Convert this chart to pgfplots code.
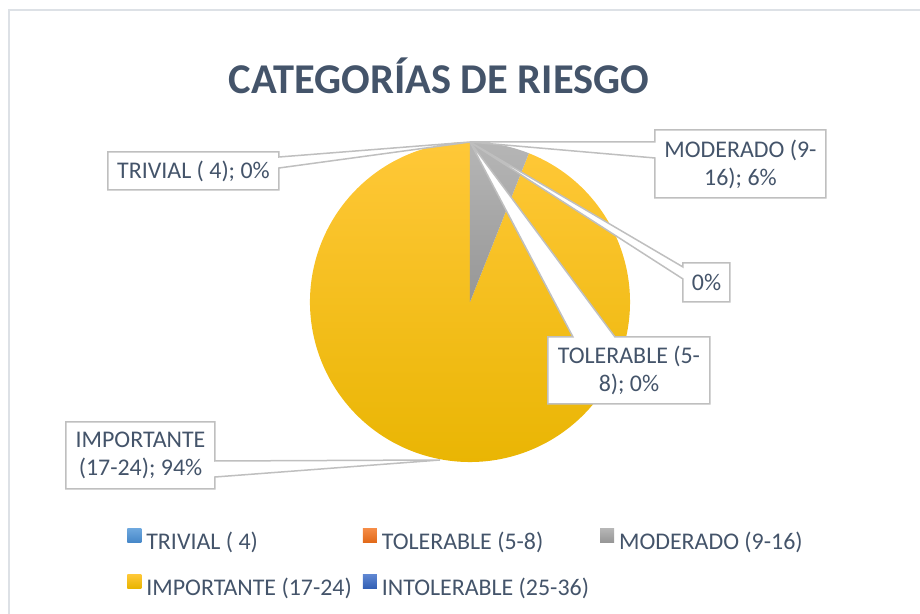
\documentclass[border=0pt]{standalone}
\usepackage{pgfplots}
\usepackage{pgfplotstable}
\pgfplotsset{compat=1.18}
\usepackage{fontspec}
\setmainfont{Carlito}
\definecolor{txt}{HTML}{44546A}
\definecolor{callout}{HTML}{BFBFBF}
\definecolor{framec}{HTML}{DDE1E6}
\definecolor{ylTop}{RGB}{255,200,56}
\definecolor{ylMid}{RGB}{255,192,0}
\definecolor{ylBot}{RGB}{232,180,0}
\definecolor{gyTop}{RGB}{182,182,182}
\definecolor{gyBot}{RGB}{150,150,150}
\definecolor{blTop}{RGB}{110,168,222}
\definecolor{blBot}{RGB}{70,135,200}
\definecolor{orTop}{RGB}{245,140,70}
\definecolor{orBot}{RGB}{225,105,25}
\definecolor{dbTop}{RGB}{95,135,210}
\definecolor{dbBot}{RGB}{50,95,180}

\pgfplotstableread{
label value
TRIVIAL 0
TOLERABLE 0
MODERADO 6
IMPORTANTE 94
INTOLERABLE 0
}\piedata
\pgfplotstablegetelem{2}{value}\of\piedata \let\vMod\pgfplotsretval
\pgfplotstablegetelem{3}{value}\of\piedata \let\vImp\pgfplotsretval

\begin{document}
\begin{tikzpicture}
\begin{axis}[
  width=460bp, height=307bp, scale only axis,
  xmin=0, xmax=920, ymin=0, ymax=614,
  hide axis, clip=false,
  legend columns=3,
  legend cell align=left,
  legend style={at={(0.1315,0.1466)}, anchor=north west, draw=none, fill=none,
    font=\fontsize{12}{14}\selectfont, text=txt,
    /tikz/every odd column/.style={column sep=2.5bp},
    /tikz/every even column/.style={column sep=5.5bp},
    row sep=9.5bp,
    nodes={inner sep=0pt, text height=9bp, text depth=3bp}},
]
% frame
\draw[framec, line width=0.75bp] (axis cs:9,0) -- (axis cs:9,604) -- (axis cs:920,604);
% title
\node[anchor=base, text=txt, font=\bfseries\fontsize{21.3}{24}\selectfont] at (axis cs:439,520) {CATEGORÍAS DE RIESGO};
% pie slices (clockwise from top)
\shade[top color=ylTop, middle color=ylMid, bottom color=ylBot]
  (axis cs:470,312) -- ++({90-3.6*\vMod}:80bp) arc[start angle={90-3.6*\vMod}, delta angle={-3.6*\vImp}, radius=80bp] -- cycle;
\shade[top color=gyTop, bottom color=gyBot]
  (axis cs:470,312) -- ++(90:80bp) arc[start angle=90, delta angle={-3.6*\vMod}, radius=80bp] -- cycle;
% callouts
\filldraw[fill=white, draw=callout, line width=0.75bp]
  (axis cs:108,462) -- (axis cs:279,462) -- (axis cs:279,457) -- (axis cs:470,472) -- (axis cs:279,446) -- (axis cs:279,424) -- (axis cs:108,424) -- cycle;
\node[text=txt, font=\fontsize{12}{14}\selectfont] at (axis cs:193.5,443) {TRIVIAL ( 4); 0\%};
\filldraw[fill=white, draw=callout, line width=0.75bp]
  (axis cs:548,277) -- (axis cs:573,277) -- (axis cs:470,472) -- (axis cs:615,277) -- (axis cs:710,277) -- (axis cs:710,210) -- (axis cs:548,210) -- cycle;
\node[text=txt, font=\fontsize{12}{14}\selectfont, align=center] at (axis cs:629,243.5) {TOLERABLE (5-\\8); 0\%};
\filldraw[fill=white, draw=callout, line width=0.75bp]
  (axis cs:655,484) -- (axis cs:826,484) -- (axis cs:826,416) -- (axis cs:655,416) -- (axis cs:655,456) -- (axis cs:470,472) -- (axis cs:655,472) -- cycle;
\node[text=txt, font=\fontsize{12}{14}\selectfont, align=center] at (axis cs:740.5,450) {MODERADO (9-\\16); 6\%};
\filldraw[fill=white, draw=callout, line width=0.75bp]
  (axis cs:66,192) -- (axis cs:215,192) -- (axis cs:215,153) -- (axis cs:440,154) -- (axis cs:215,137) -- (axis cs:215,125) -- (axis cs:66,125) -- cycle;
\node[text=txt, font=\fontsize{12}{14}\selectfont, align=center] at (axis cs:140.5,158.5) {IMPORTANTE\\(17-24); 94\%};
\filldraw[fill=white, draw=callout, line width=0.75bp]
  (axis cs:683,351) -- (axis cs:730,351) -- (axis cs:730,312) -- (axis cs:683,312) -- (axis cs:683,335) -- (axis cs:470,472) -- (axis cs:683,347) -- cycle;
\node[text=txt, font=\fontsize{12}{14}\selectfont] at (axis cs:706.5,331.5) {0\%};
% legend
\addlegendimage{legend image code/.code={\shade[draw=none, top color=blTop, bottom color=blBot] (0bp,0.5bp) rectangle (7bp,7.5bp);}}
\addlegendentry{TRIVIAL ( 4)}
\addlegendimage{legend image code/.code={\shade[draw=none, top color=orTop, bottom color=orBot] (0bp,0.5bp) rectangle (7bp,7.5bp);}}
\addlegendentry{TOLERABLE (5-8)}
\addlegendimage{legend image code/.code={\shade[draw=none, top color=gyTop, bottom color=gyBot] (0bp,0.5bp) rectangle (7bp,7.5bp);}}
\addlegendentry{MODERADO (9-16)}
\addlegendimage{legend image code/.code={\shade[draw=none, top color=ylTop, bottom color=ylBot] (0bp,0.5bp) rectangle (7bp,7.5bp);}}
\addlegendentry{IMPORTANTE (17-24)}
\addlegendimage{legend image code/.code={\shade[draw=none, top color=dbTop, bottom color=dbBot] (0bp,0.5bp) rectangle (7bp,7.5bp);}}
\addlegendentry{INTOLERABLE (25-36)}
\end{axis}
\pgfresetboundingbox
\path (0,0) rectangle (460bp,307bp);
\end{tikzpicture}
\end{document}
